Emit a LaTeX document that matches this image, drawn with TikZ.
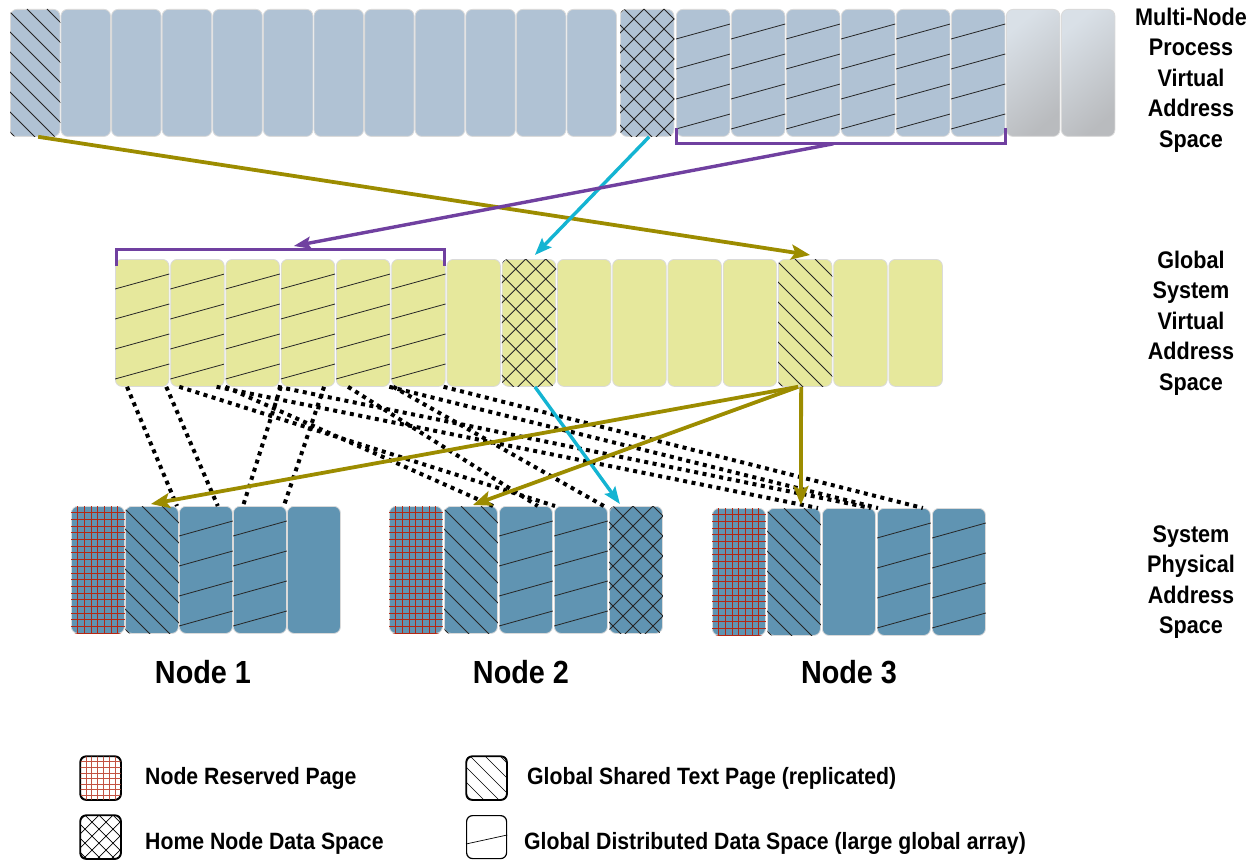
\documentclass[tikz,border=0pt]{standalone}
\usepackage{fontspec}
\setmainfont{Liberation Sans}
\newfontfamily\diagfont[FakeStretch=0.9]{Liberation Sans}
\usetikzlibrary{arrows.meta,calc}

\definecolor{topblue}{HTML}{B0C2D4}
\definecolor{midyel}{HTML}{E6E89C}
\definecolor{physblue}{HTML}{6094B2}
\definecolor{cellrim}{HTML}{DADADA}
\definecolor{gradlight}{HTML}{D9E0E7}
\definecolor{graddark}{HTML}{B9BBBE}
\definecolor{arrowolive}{HTML}{9C8C00}
\definecolor{arrowcyan}{HTML}{14B4D2}
\definecolor{arrowpurple}{HTML}{7040A0}
\definecolor{gridred}{HTML}{B42814}

\tikzset{
  page/.style={draw=cellrim, line width=0.8pt, rounded corners=6.5pt, inner sep=0pt,
    anchor=north west, minimum height=127pt},
  vpage/.style={page, fill=topblue, minimum width=49.5pt},
  vpagew/.style={page, fill=topblue, minimum width=53.5pt},
  fadepage/.style={page, minimum width=53.5pt, top color=gradlight, bottom color=graddark,
    shading angle=40},
  gpage/.style={page, fill=midyel, minimum width=53.5pt},
  ppage/.style={page, fill=physblue, minimum width=53pt},
  hatchline/.style={line width=0.8pt, draw=black!85},
  gridline/.style={line width=0.9pt, draw=gridred},
  icongrid/.style={line width=0.6pt, draw=gridred!80},
  iconline/.style={line width=0.7pt, draw=black},
  legicon/.style={draw=black, line width=1.2pt, rounded corners=6pt, fill=white,
    inner sep=0pt, anchor=north west, minimum width=40pt, minimum height=43pt},
  legtext/.style={font=\diagfont\bfseries\fontsize{23.6}{28}\selectfont, anchor=west, inner sep=0pt},
  sidelabel/.style={font=\diagfont\bfseries\fontsize{24}{30.4}\selectfont, align=center},
  nodelabel/.style={font=\diagfont\bfseries\fontsize{32}{36}\selectfont},
  olivearrow/.style={draw=arrowolive, line width=3.8pt,
    -{Stealth[length=19pt,width=15pt,inset=4pt]}},
  cyanarrow/.style={draw=arrowcyan, line width=3.4pt,
    -{Stealth[length=17pt,width=13pt,inset=3pt]}},
  purplearrow/.style={draw=arrowpurple, line width=3.4pt,
    -{Stealth[length=17pt,width=12pt,inset=3pt]}},
  bracket/.style={draw=arrowpurple, line width=3pt},
  mapline/.style={draw=black, line width=4pt, dash pattern=on 4pt off 4.5pt}
}

% distributed-data stripes
\newcommand\pgSlope[1]{%
  \begin{scope}
    \clip[rounded corners=6.5pt] (#1.north west) rectangle (#1.south east);
    \foreach \k in {1,2,3,4}
      \draw[hatchline] ($(#1.north west)+(0,30*\k)$) -- ($(#1.north east)+(0,30*\k-15)$);
  \end{scope}}
% shared text pages
\newcommand\pgHatch[1]{%
  \begin{scope}
    \clip[rounded corners=6.5pt] (#1.north west) rectangle (#1.south east);
    \foreach \k in {-7,...,3}
      \draw[hatchline] ($(#1.north west)+(20*\k-3,0)$) -- ++(150,150);
  \end{scope}}
% home node data pages
\newcommand\pgCross[1]{%
  \begin{scope}
    \clip[rounded corners=6.5pt] (#1.north west) rectangle (#1.south east);
    \foreach \k in {-7,...,3}
      \draw[hatchline] ($(#1.north west)+(20*\k+4,0)$) -- ++(150,150);
    \foreach \k in {0,...,10}
      \draw[hatchline] ($(#1.north west)+(20*\k+4,0)$) -- ++(-150,150);
  \end{scope}}
% node reserved pages
\newcommand\pgGrid[1]{%
  \begin{scope}
    \clip[rounded corners=6.5pt] (#1.north west) rectangle (#1.south east);
    \foreach \k in {1,...,7}
      \draw[gridline] ($(#1.north west)+(6.7*\k,0)$) -- ($(#1.south west)+(6.7*\k,0)$);
    \foreach \k in {1,...,19}
      \draw[gridline] ($(#1.north west)+(0,6.7*\k)$) -- ($(#1.north east)+(0,6.7*\k)$);
  \end{scope}}

\begin{document}
\begin{tikzpicture}[x=1pt,y=-1pt]
\useasboundingbox (0,0) rectangle (1257,861);

% ---- multi-node process virtual address space
\foreach \i in {0,...,11}
  \node[vpage] (t\i) at ({10+50.6*\i},9) {};
\node[vpagew] (t12) at (620,9) {};
\foreach \i in {13,...,18}
  \node[vpagew] (t\i) at ({676+55*(\i-13)},9) {};
\node[fadepage] (t19) at (1006,9) {};
\node[fadepage] (t20) at (1061,9) {};
\pgHatch{t0}
\pgCross{t12}
\foreach \i in {13,...,18} {\pgSlope{t\i}}

% ---- global system virtual address space
\foreach \i in {0,...,14}
  \node[gpage] (m\i) at ({115+55.25*\i},259) {};
\foreach \i in {0,...,5} {\pgSlope{m\i}}
\pgCross{m7}
\pgHatch{m12}

% ---- system physical address space
\foreach \i in {0,...,4}
  \node[ppage] (a\i) at ({71+54*\i},506) {};
\foreach \i in {0,...,4}
  \node[ppage] (b\i) at ({389+55*\i},506) {};
\foreach \i in {0,...,4}
  \node[ppage] (c\i) at ({712+55*\i},508) {};
\pgGrid{a0}\pgHatch{a1}\pgSlope{a2}\pgSlope{a3}
\pgGrid{b0}\pgHatch{b1}\pgSlope{b2}\pgSlope{b3}\pgCross{b4}
\pgGrid{c0}\pgHatch{c1}\pgSlope{c3}\pgSlope{c4}

% ---- brackets over the distributed ranges
\draw[bracket] ($(t13.south west)+(0,-9)$) -- ($(t13.south west)+(0,7)$)
  -- ($(t18.south east)+(0,7)$) -- ($(t18.south east)+(0,-9)$);
\draw[bracket] ($(m0.north west)+(1,7)$) -- ($(m0.north west)+(1,-10)$)
  -- ($(m5.north east)+(-1,-10)$) -- ($(m5.north east)+(-1,7)$);
\coordinate (topbr) at ($(t15.south east)+(-7,7)$);

% ---- distributed pages to their physical homes
\draw[mapline] ($(m0.south west)+(12,0)$) -- ($(a2.north west)+(-2,0)$);
\draw[mapline] ($(m0.south east)+(-3,0)$) -- ($(a2.north east)+(-15,0)$);
\draw[mapline] (m3.south west) -- ($(a3.north west)+(10,0)$);
\draw[mapline] ($(m3.south east)+(-11,0)$) -- ($(a3.north east)+(-3,0)$);
\draw[mapline] ($(m1.south east)+(-8,0)$) -- ($(c2.north west)+(-4,0)$);
\draw[mapline] ($(m2.south east)+(-2,0)$) -- ($(c2.north east)+(-5,0)$);
\draw[mapline] ($(m4.south east)+(-1,0)$) -- ($(c3.north west)+(1,0)$);
\draw[mapline] ($(m5.south east)+(-2,0)$) -- ($(c3.north east)+(-8,0)$);
\draw[mapline] ($(m1.south west)+(9,0)$) -- ($(b3.north west)+(1,0)$);
\draw[mapline] (m2.south west) -- ($(b2.north west)+(-6,0)$);
\draw[mapline] ($(m4.south west)+(12,0)$) -- ($(b2.north east)+(-15,0)$);
\draw[mapline] ($(m5.south west)+(2,0)$) -- ($(b3.north east)+(-4,0)$);

% ---- mapping arrows
\draw[olivearrow] ($(t0.south)+(3,0)$) -- ($(m12.north)+(5,-4)$);
\draw[cyanarrow] ($(t12.south)+(2,0)$) -- ($(m7.north)+(6,-4)$);
\draw[purplearrow] (topbr) -- ($(m3.north west)+(13,-13)$);
\draw[cyanarrow] ($(m7.south)+(6,0)$) -- ($(b4.north)+(-16,-2)$);
\draw[olivearrow] ($(m12.south)+(-7,0)$) -- ($(a1.north)+(-1,-2)$);
\draw[olivearrow] ($(m12.south)+(-7,0)$) -- ($(b1.north)+(2,-1)$);
\draw[olivearrow] ($(m12.south)+(-4,0)$) -- ($(c1.north)+(7,-3)$);

% ---- row captions
\node[sidelabel] (lab1) at (1191,80) {Multi-Node\\Process\\Virtual\\Address\\Space};
\node[sidelabel] (lab2) at (1191,323) {Global\\System\\Virtual\\Address\\Space};
\node[sidelabel] (lab3) at (1191,582) {System\\Physical\\Address\\Space};
\node[nodelabel] (n1) at (203,672) {Node 1};
\node[nodelabel] (n2) at (521,672) {Node 2};
\node[nodelabel] (n3) at (849,672) {Node 3};

% ---- legend
\node[legicon] (k1) at (80,756) {};
\node[legicon] (k2) at (80,815) {};
\node[legicon] (k3) at (466,756) {};
\node[legicon] (k4) at (466,815) {};
\begin{scope}
  \clip[rounded corners=6pt] (k1.north west) rectangle (k1.south east);
  \foreach \k in {1,...,6}
    \draw[icongrid] ($(k1.north west)+(5.8*\k,0)$) -- ($(k1.south west)+(5.8*\k,0)$);
  \foreach \k in {1,...,7}
    \draw[icongrid] ($(k1.north west)+(0,5.6*\k)$) -- ($(k1.north east)+(0,5.6*\k)$);
\end{scope}
\begin{scope}
  \clip[rounded corners=6pt] (k2.north west) rectangle (k2.south east);
  \foreach \k in {-3,...,3}
    \draw[iconline] ($(k2.north west)+(14*\k+5,0)$) -- ++(60,60);
  \foreach \k in {0,...,6}
    \draw[iconline] ($(k2.north west)+(14*\k+5,0)$) -- ++(-60,60);
\end{scope}
\begin{scope}
  \clip[rounded corners=6pt] (k3.north west) rectangle (k3.south east);
  \foreach \k in {-2,...,2}
    \draw[iconline] ($(k3.north west)+(15*\k+4,0)$) -- ++(60,60);
\end{scope}
\draw[iconline] ($(k4.north west)+(0,29)$) -- ($(k4.north east)+(0,20)$);
\draw[legicon, fill=none] (k1.north west) rectangle (k1.south east);
\draw[legicon, fill=none] (k2.north west) rectangle (k2.south east);
\draw[legicon, fill=none] (k3.north west) rectangle (k3.south east);

\node[legtext] (l1) at (145,778) {Node Reserved Page};
\node[legtext] (l2) at (145,843) {Home Node Data Space};
\node[legtext] (l3) at (527,778) {Global Shared Text Page (replicated)};
\node[legtext] (l4) at (524,843) {Global Distributed Data Space (large global array)};
\end{tikzpicture}
\end{document}
